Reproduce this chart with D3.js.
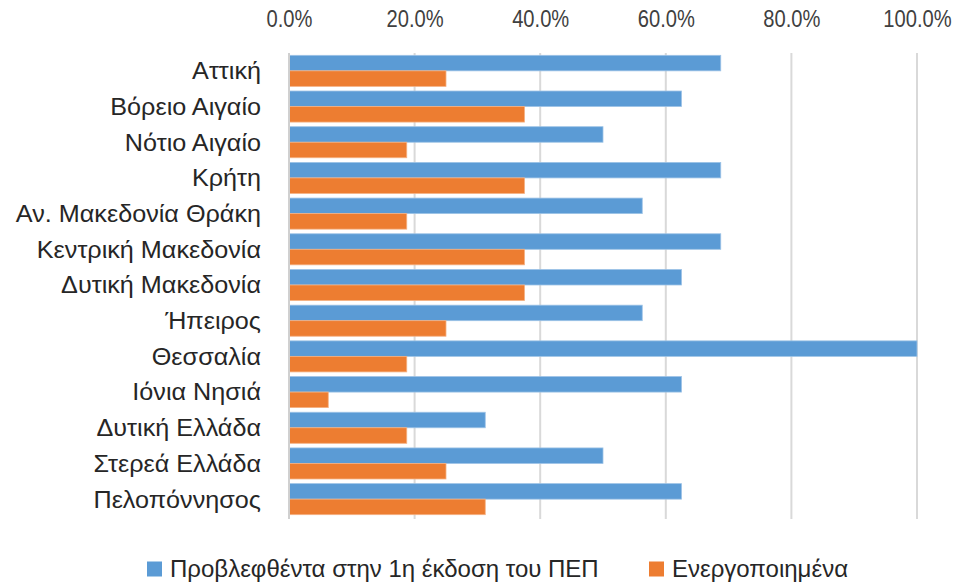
<!DOCTYPE html>
<html><head><meta charset="utf-8">
<script src="https://cdn.jsdelivr.net/npm/d3@7"></script>
<style>body{margin:0;background:#fff}svg{display:block}</style>
</head><body>
<script>
const categories = ["Αττική","Βόρειο Αιγαίο","Νότιο Αιγαίο","Κρήτη","Αν. Μακεδονία Θράκη","Κεντρική Μακεδονία","Δυτική Μακεδονία","Ήπειρος","Θεσσαλία","Ιόνια Νησιά","Δυτική Ελλάδα","Στερεά Ελλάδα","Πελοπόννησος"];
const planned = [68.75,62.5,50,68.75,56.25,68.75,62.5,56.25,100,62.5,31.25,50,62.5];
const activated = [25,37.5,18.75,37.5,18.75,37.5,37.5,25,18.75,6.25,18.75,25,31.25];
const seriesNames = ["Προβλεφθέντα στην 1η έκδοση του ΠΕΠ","Ενεργοποιημένα"];
const tickValues = [0,20,40,60,80,100];
const colors = ["#5B9BD5","#ED7D31"];

const W=962,H=585;
const FONT="Arial,'Liberation Sans',sans-serif";
const svg=d3.select("body").append("svg").attr("width",W).attr("height",H);
const x=d3.scaleLinear().domain([0,100]).range([289,917]);
const y=d3.scaleBand().domain(categories).range([53,517]).paddingInner(0.13).paddingOuter(0.065);
const sub=d3.scaleBand().domain([0,1]).range([0,y.bandwidth()]);

// gridlines
svg.append("g").selectAll("line").data(tickValues.slice(1)).join("line")
  .attr("x1",d=>x(d)).attr("x2",d=>x(d)).attr("y1",53).attr("y2",519)
  .attr("stroke","#d9d9d9").attr("stroke-width",2);

// axis labels (condensed)
const ax=svg.append("g").attr("transform","translate(0,19)")
  .call(d3.axisTop(x).tickValues(tickValues).tickFormat(d=>d.toFixed(1)+"%").tickSize(0));
ax.select(".domain").remove();
ax.selectAll("text").attr("font-family",FONT)
  .attr("font-size",24).attr("fill","#404040").attr("dy","0.35em").attr("y",0)
  .attr("transform","scale(0.84,1)");
ax.selectAll(".tick").each(function(){ /* keep position, compress glyphs */ });

// bars
const data=categories.map((c,i)=>({c,vals:[planned[i],activated[i]]}));
const g=svg.append("g").selectAll("g").data(data).join("g").attr("transform",d=>`translate(0,${y(d.c)})`);
g.selectAll("rect").data(d=>d.vals.map((v,k)=>({v,k}))).join("rect")
  .attr("x",x(0)).attr("y",d=>sub(d.k)).attr("width",d=>x(d.v)-x(0)).attr("height",sub.bandwidth())
  .attr("fill",d=>colors[d.k]).attr("stroke",d=>d.k===0?"#9dc3e6":"#f4b183").attr("stroke-width",0.8);

// zero line
svg.append("line").attr("x1",x(0)).attr("x2",x(0)).attr("y1",53).attr("y2",519).attr("stroke","#d0d0d0").attr("stroke-width",2);

// category labels
svg.append("g").selectAll("text").data(categories).join("text")
  .attr("transform",d=>`translate(261,${y(d)+y.bandwidth()/2}) scale(1.05,1)`)
  .attr("dy","0.35em")
  .attr("text-anchor","end").attr("font-family",FONT)
  .attr("font-size",24).attr("fill","#262626").text(d=>d);

// legend
const leg=[{x:147,t:seriesNames[0],c:colors[0]},{x:649,t:seriesNames[1],c:colors[1]}];
const lg=svg.append("g").selectAll("g").data(leg).join("g").attr("transform",d=>`translate(${d.x},569)`);
lg.append("rect").attr("x",0).attr("y",-7.5).attr("width",15).attr("height",15).attr("fill",d=>d.c);
lg.append("text").attr("x",23).attr("dy","0.35em").attr("font-family",FONT)
  .attr("font-size",24).attr("fill","#262626").text(d=>d.t);
</script>
</body></html>
